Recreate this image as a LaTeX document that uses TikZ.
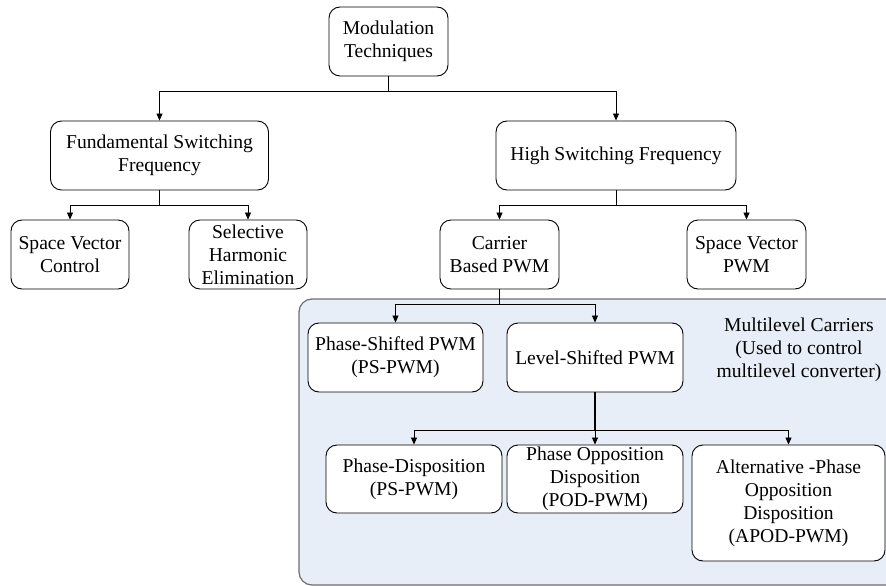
\documentclass[tikz,border=0pt]{standalone}
\usepackage{fontspec}
\setmainfont{Liberation Serif}
\newfontfamily\tnr{Liberation Serif}
\usetikzlibrary{arrows.meta}
\definecolor{regionfill}{HTML}{E8EEF7}
\definecolor{regionline}{HTML}{6E6E6E}
\begin{document}
\begin{tikzpicture}[x=1pt,y=-1pt,
  box/.style={draw=black,line width=0.9pt,rounded corners=11pt,fill=white,align=center,
    inner sep=0pt,font=\tnr\fontsize{19.6}{23}\selectfont},
  conn/.style={draw=black,line width=0.8pt},
  arr/.style={conn,-{Triangle[length=7pt,width=6pt]}}]
\useasboundingbox (0,0) rectangle (886,586);
\fill[white] (0,0) rectangle (886,586);
% region
\draw[fill=regionfill,draw=regionline,line width=1.2pt,rounded corners=13pt] (299,299) rectangle (905,585);
\node[align=center,font=\tnr\fontsize{19.6}{23}\selectfont] (note) at (799,350) {Multilevel Carriers\\(Used to control\\multilevel converter)};
% nodes
\node[box,minimum width=119pt,minimum height=69pt] (mod) at (388.5,41.5) {Modulation\\Techniques};
\node[box,minimum width=218pt,minimum height=69pt] (fsf) at (159.5,155.5) {Fundamental Switching\\Frequency};
\node[box,minimum width=240pt,minimum height=69pt] (hsf) at (616,155.5) {High Switching Frequency};
\node[box,minimum width=118pt,minimum height=69pt] (svc) at (70,254.5) {Space Vector\\Control};
\node[box,minimum width=118pt,minimum height=69pt] (she) at (248,254.5) {Selective\\Harmonic\\Elimination};
\node[box,minimum width=119pt,minimum height=69pt] (cb) at (499.5,254.5) {Carrier\\Based PWM};
\node[box,minimum width=119pt,minimum height=69pt] (svp) at (746.5,254.5) {Space Vector\\PWM};
\node[box,minimum width=175pt,minimum height=69pt] (ps) at (395.5,357.5) {Phase-Shifted PWM\\(PS-PWM)};
\node[box,minimum width=176pt,minimum height=69pt] (ls) at (595,357.5) {Level-Shifted PWM};
\node[box,minimum width=176pt,minimum height=68pt] (pd) at (414,479) {Phase-Disposition\\(PS-PWM)};
\node[box,minimum width=176pt,minimum height=68pt] (pod) at (595,479) {Phase Opposition\\Disposition\\(POD-PWM)};
\node[box,minimum width=193pt,minimum height=116pt] (apod) at (788.5,503) {Alternative -Phase\\Opposition\\Disposition\\(APOD-PWM)};
% junctions
\coordinate (j1) at (388.5,91);
\coordinate (j2) at (159.5,205);
\coordinate (j3) at (616,205);
\coordinate (j4) at (499.5,304);
\coordinate (j5) at (595,430);
% connectors
\draw[conn] (mod.south) -- (j1);
\draw[arr] (j1) -| (fsf.north);
\draw[arr] (j1) -| (hsf.north);
\draw[conn] (fsf.south) -- (j2);
\draw[arr] (j2) -| (svc.north);
\draw[arr] (j2) -| (she.north);
\draw[conn] (hsf.south) -- (j3);
\draw[arr] (j3) -| (cb.north);
\draw[arr] (j3) -| (svp.north);
\draw[conn] (cb.south) -- (j4);
\draw[arr] (j4) -| (ps.north);
\draw[arr] (j4) -| (ls.north);
\draw[conn,line width=1.3pt] (ls.south) -- (j5);
\draw[arr] (j5) -| (pd.north);
\draw[arr] (j5) -- (pod.north);
\draw[arr] (j5) -| (apod.north);
\end{tikzpicture}
\end{document}
